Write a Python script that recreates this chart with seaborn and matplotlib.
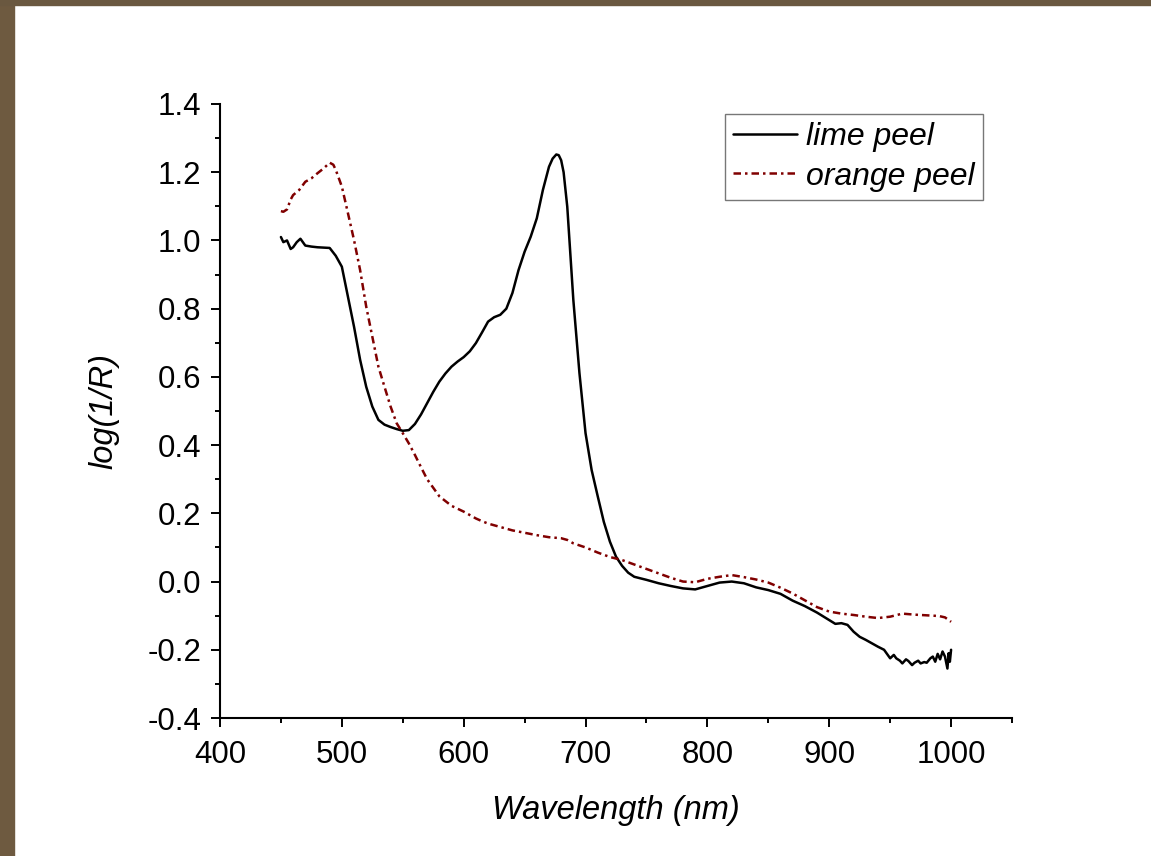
import matplotlib
matplotlib.use("Agg")
import matplotlib.pyplot as plt
import seaborn as sns
import pandas as pd
from matplotlib.patches import Rectangle
from matplotlib.ticker import MultipleLocator

# lime peel spectrum (wavelength nm, log(1/R))
lime_nm = [450, 452, 455, 458, 460, 463, 466, 470, 475, 480, 485, 490, 495, 500,
           505, 510, 515, 520, 525, 530, 535, 540, 545, 550, 555, 560, 565, 570,
           575, 580, 585, 590, 595, 600, 605, 610, 615, 620, 625, 630, 635, 640,
           645, 650, 655, 660, 665, 670, 673, 676, 678, 680, 682, 685, 690, 695, 700, 705,
           710, 715, 720, 725, 730, 735, 740, 750, 760, 770, 780, 790, 800, 810,
           820, 830, 840, 850, 860, 870, 880, 890, 900, 905, 910, 915, 920, 925,
           930, 935, 940, 945, 950, 953, 955, 958, 960, 963, 965, 968, 970, 973,
           975, 978, 980, 983, 985, 987, 989, 991, 993, 995, 997, 998, 999, 1000]
lime_val = [1.01, 0.995, 1.0, 0.975, 0.98, 0.995, 1.005, 0.985, 0.982, 0.98, 0.979, 0.978,
            0.955, 0.923, 0.835, 0.747, 0.65, 0.571, 0.513, 0.474, 0.46, 0.453, 0.447,
            0.442, 0.444, 0.462, 0.49, 0.523, 0.556, 0.586, 0.61, 0.63, 0.645, 0.658,
            0.675, 0.699, 0.73, 0.762, 0.775, 0.782, 0.8, 0.846, 0.913, 0.967, 1.011,
            1.065, 1.148, 1.216, 1.24, 1.252, 1.25, 1.235, 1.2, 1.099, 0.825, 0.611, 0.435, 0.327,
            0.25, 0.175, 0.117, 0.073, 0.046, 0.026, 0.014, 0.005, -0.005, -0.013,
            -0.02, -0.023, -0.013, -0.003, 0.0, -0.005, -0.017, -0.025, -0.036, -0.056,
            -0.072, -0.091, -0.113, -0.124, -0.122, -0.127, -0.147, -0.162, -0.171,
            -0.181, -0.191, -0.2, -0.225, -0.215, -0.225, -0.232, -0.24, -0.228, -0.233,
            -0.245, -0.238, -0.232, -0.24, -0.236, -0.238, -0.225, -0.22, -0.235, -0.212,
            -0.228, -0.205, -0.22, -0.255, -0.21, -0.235, -0.2]

# orange peel spectrum
orange_nm = [450, 452, 455, 458, 460, 465, 470, 475, 480, 485, 490, 493, 495, 500,
             505, 510, 515, 520, 525, 530, 535, 540, 545, 550, 555, 560, 565, 570,
             580, 590, 600, 605, 610, 615, 620, 625, 630, 640, 650, 660, 670, 680,
             685, 690, 700, 710, 720, 730, 740, 750, 760, 770, 780, 790, 800, 810,
             820, 830, 840, 850, 860, 870, 880, 890, 900, 910, 920, 930, 940, 950,
             960, 970, 980, 990, 995, 1000]
orange_val = [1.086, 1.084, 1.091, 1.12, 1.133, 1.148, 1.172, 1.182, 1.197, 1.211, 1.228,
              1.222, 1.207, 1.158, 1.08, 1.001, 0.913, 0.806, 0.718, 0.63, 0.571, 0.513,
              0.464, 0.435, 0.405, 0.371, 0.335, 0.3, 0.25, 0.222, 0.205, 0.195, 0.185,
              0.177, 0.17, 0.165, 0.16, 0.15, 0.143, 0.136, 0.13, 0.127, 0.122, 0.112,
              0.1, 0.085, 0.072, 0.063, 0.05, 0.037, 0.024, 0.011, 0.0, -0.002, 0.008,
              0.014, 0.019, 0.013, 0.006, -0.003, -0.018, -0.035, -0.055, -0.075, -0.088,
              -0.094, -0.098, -0.103, -0.107, -0.103, -0.094, -0.097, -0.099, -0.101,
              -0.105, -0.118]

x_ticks = [400, 500, 600, 700, 800, 900, 1000]
y_ticks = [-0.4, -0.2, 0.0, 0.2, 0.4, 0.6, 0.8, 1.0, 1.2, 1.4]

lime = pd.DataFrame({"nm": lime_nm, "val": lime_val})
orange = pd.DataFrame({"nm": orange_nm, "val": orange_val})

sns.set_style("ticks")
plt.rcParams["font.family"] = ["Liberation Sans", "DejaVu Sans"]
plt.rcParams["text.color"] = "black"
plt.rcParams["axes.labelcolor"] = "black"

fig = plt.figure(figsize=(11.51, 8.56), dpi=100)
W, H = 1151, 856
ax = fig.add_axes([220 / W, 1 - 718 / H, (1012 - 220) / W, (718 - 104) / H])

# brown frame at left and top edges
fig.patches.append(Rectangle((0, 0), 14 / W, 1, transform=fig.transFigure,
                             color="#6e5a40", zorder=0))
fig.patches.append(Rectangle((0, 1 - 5 / H), 1, 5 / H, transform=fig.transFigure,
                             color="#6a5840", zorder=0))

sns.lineplot(data=lime, x="nm", y="val", ax=ax, color="black", lw=1.8,
             label="lime peel")
sns.lineplot(data=orange, x="nm", y="val", ax=ax, color="#800000", lw=1.8,
             linestyle=(0, (3, 1.6, 1, 1.6)), label="orange peel")

ax.set_xlim(400, 1050)
ax.set_ylim(-0.4, 1.4)
ax.set_xticks(x_ticks)
ax.set_yticks(y_ticks)
ax.set_yticklabels([f"{t:.1f}" for t in y_ticks])
ax.xaxis.set_minor_locator(MultipleLocator(50))
ax.yaxis.set_minor_locator(MultipleLocator(0.1))
ax.tick_params(which="major", direction="out", length=6.5, width=1.4,
               labelsize=22.5, pad=7, colors="black")
ax.tick_params(which="minor", direction="out", length=3.5, width=1.4, colors="black")
ax.tick_params(axis="x", which="major", pad=9)
sns.despine(ax=ax)
for s in ["left", "bottom"]:
    ax.spines[s].set_linewidth(1.5)
    ax.spines[s].set_color("black")

ax.set_xlabel("Wavelength (nm)", fontsize=23.5, style="italic", labelpad=18)
ax.set_ylabel("log(1/R)", fontsize=23.5, style="italic", labelpad=20)

leg = ax.legend(loc="upper left", bbox_to_anchor=(725 / W, 1 - 114 / H),
                bbox_transform=fig.transFigure, borderaxespad=0, fancybox=False,
                frameon=True, fontsize=23, handlelength=2.0, handletextpad=0.3,
                borderpad=0.25, labelspacing=0.3)
leg.get_frame().set_edgecolor("#555555")
leg.get_frame().set_linewidth(1.0)
for t in leg.get_texts():
    t.set_fontstyle("italic")
    t.set_color("black")

fig.savefig("out.png", dpi=100)
